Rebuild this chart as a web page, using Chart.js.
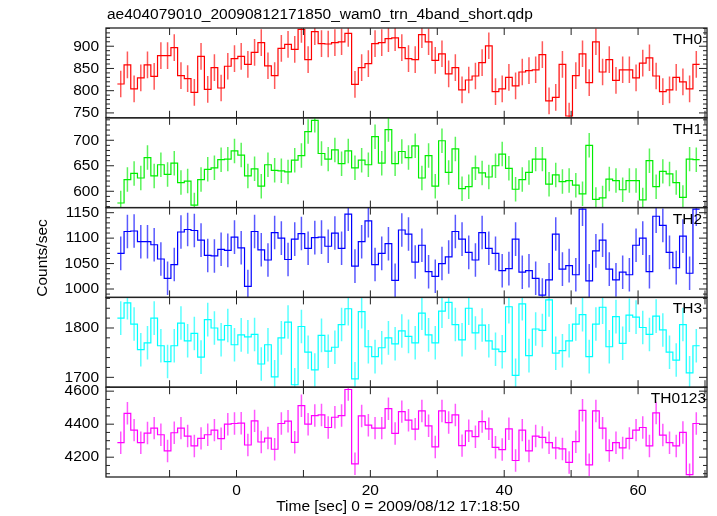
<!DOCTYPE html>
<html>
<head>
<meta charset="utf-8">
<script src="https://cdn.jsdelivr.net/npm/chart.js@4/dist/chart.umd.min.js"></script>
<style>
  body { margin: 0; background: #fff; }
</style>
</head>
<body>
<canvas id="lc" width="717" height="516"></canvas>
<script>
var plotTitle = 'ae404079010_20090812171850_wam0_trn_4band_short.qdp';
var xTitle = 'Time [sec] 0 = 2009/08/12 17:18:50';
var yTitle = 'Counts/sec';

// bin centres (sec), 1 s bins
var binTimes = [-17.3,-16.3,-15.3,-14.3,-13.3,-12.3,-11.3,-10.3,-9.3,-8.3,-7.3,-6.3,-5.3,-4.3,-3.3,-2.3,-1.3,-0.3,
  0.7,1.7,2.7,3.7,4.7,5.7,6.7,7.7,8.7,9.7,10.7,11.7,12.7,13.7,14.7,15.7,16.7,17.7,18.7,19.7,20.7,21.7,22.7,23.7,
  24.7,25.7,26.7,27.7,28.7,29.7,30.7,31.7,32.7,33.7,34.7,35.7,36.7,37.7,38.7,39.7,40.7,41.7,42.7,43.7,44.7,45.7,
  46.7,47.7,48.7,49.7,50.7,51.7,52.7,53.7,54.7,55.7,56.7,57.7,58.7,59.7,60.7,61.7,62.7,63.7,64.7,65.7,66.7,67.7,68.7];
var binWidth = 1.0;

var th0 = [815,858,804,829,858,832,879,879,897,834,827,796,877,803,852,806,855,872,877,859,
  886,908,856,834,895,904,893,938,870,933,906,905,908,910,929,814,852,861,906,908,
  917,919,897,872,870,926,910,868,883,838,852,802,824,833,863,901,798,804,830,811,
  842,845,847,881,777,785,859,743,834,883,818,910,842,870,823,847,847,829,862,874,
  833,798,802,830,820,804,859];
var th1 = [577,623,635,626,666,630,652,633,655,617,620,573,623,643,646,662,663,679,671,630,
  644,610,652,641,640,638,661,670,717,739,674,663,681,654,679,646,661,652,707,655,
  721,654,678,666,689,626,670,610,699,637,683,605,609,646,636,628,650,673,645,604,
  623,637,663,663,614,632,619,621,612,595,690,584,587,624,621,603,621,621,583,660,
  609,639,634,617,588,663,662];
var th2 = [1070,1113,1114,1093,1093,1087,1059,1021,1048,1112,1117,1115,1096,1066,1065,1078,1076,1102,1081,1005,
  1113,1077,1057,1111,1100,1058,1098,1109,1080,1101,1102,1084,1110,1080,1147,1045,1093,1134,1048,1070,
  1089,1017,1116,1108,1053,1086,1034,1025,1050,1063,1113,1098,1072,1057,1111,1080,1070,1036,1040,1098,
  1033,1036,1021,988,1018,1108,1039,1046,1028,1157,1016,1075,1096,1039,1018,1033,1028,1086,1100,1034,
  1143,1125,1072,1042,1104,1031,1157];
var th3 = [1820,1851,1808,1756,1770,1820,1764,1732,1764,1810,1774,1789,1741,1817,1800,1776,1805,1766,1786,1782,
  1787,1727,1766,1701,1780,1812,1685,1803,1751,1715,1785,1753,1761,1807,1839,1697,1833,1762,1742,1760,
  1780,1768,1794,1783,1770,1830,1786,1770,1834,1852,1807,1776,1840,1790,1806,1774,1757,1752,1843,1704,
  1849,1744,1798,1795,1857,1749,1754,1774,1808,1827,1742,1808,1842,1762,1823,1769,1826,1822,1801,1787,
  1824,1796,1751,1735,1807,1709,1764];
var th0123 = [4288,4466,4364,4288,4346,4376,4336,4238,4348,4376,4328,4268,4314,4336,4364,4312,4400,4404,4406,4274,
  4420,4292,4316,4248,4404,4418,4290,4512,4400,4452,4456,4380,4442,4452,4610,4160,4450,4394,4376,4376,
  4494,4344,4476,4424,4370,4480,4390,4262,4480,4410,4456,4270,4360,4324,4416,4372,4260,4246,4372,4180,
  4364,4238,4328,4320,4288,4256,4250,4168,4294,4484,4154,4480,4376,4240,4288,4256,4314,4364,4380,4268,
  4468,4334,4288,4268,4350,4094,4404];

// typical 1-sigma error per band (counts/sec)
var th0Err = 30, th1Err = 24, th2Err = 33, th3Err = 34, th0123Err = 68;

// axis ranges and tick labels
var th0Range = [739, 941], th0Ticks = [750, 800, 850, 900], th0Minor = 10;
var th1Range = [568, 744], th1Ticks = [600, 650, 700], th1Minor = 10;
var th2Range = [983.5, 1160], th2Ticks = [1000, 1050, 1100, 1150], th2Minor = 10;
var th3Range = [1680, 1862], th3Ticks = [1700, 1800], th3Minor = 20;
var th0123Range = [4080, 4624], th0123Ticks = [4200, 4400, 4600], th0123Minor = 50;
var xRange = [-19.5, 70.3], xTicks = [0, 20, 40, 60], xTickMarks = [-10, 0, 10, 20, 30, 40, 50, 60, 70];

var panels = [
  { id: 'y0', name: 'TH0', values: th0, err: th0Err, range: th0Range, ticks: th0Ticks, minor: th0Minor, color: '#ff0000' },
  { id: 'y1', name: 'TH1', values: th1, err: th1Err, range: th1Range, ticks: th1Ticks, minor: th1Minor, color: '#00ee00' },
  { id: 'y2', name: 'TH2', values: th2, err: th2Err, range: th2Range, ticks: th2Ticks, minor: th2Minor, color: '#0000ff' },
  { id: 'y3', name: 'TH3', values: th3, err: th3Err, range: th3Range, ticks: th3Ticks, minor: th3Minor, color: '#00ffff' },
  { id: 'y4', name: 'TH0123', values: th0123, err: th0123Err, range: th0123Range, ticks: th0123Ticks, minor: th0123Minor, color: '#ff00ff' }
];

// histogram edges: each value held from its bin's left edge to the next edge
function stepPoints(vals) {
  var pts = vals.map(function (v, i) { return { x: binTimes[i] - binWidth / 2, y: v }; });
  pts.push({ x: binTimes[vals.length - 1] + binWidth / 2, y: vals[vals.length - 1] });
  return pts;
}

var FONT = "15.5px 'Liberation Sans', Arial, sans-serif";
Chart.defaults.font.family = "'Liberation Sans', Arial, sans-serif";
Chart.defaults.font.size = 15.5;
Chart.defaults.color = '#000';

function plain(v) { return String(v); }

var scales = {
  x: {
    type: 'linear', min: xRange[0], max: xRange[1],
    grid: { display: false, drawTicks: false }, border: { display: false },
    ticks: { padding: 4, autoSkip: false, maxRotation: 0, callback: plain },
    afterBuildTicks: function (s) { s.ticks = xTicks.map(function (v) { return { value: v }; }); },
    afterFit: function (s) { s.height = 39; }
  }
};
// reverse order so TH0 ends up on top of the stack
panels.slice().reverse().forEach(function (p) {
  scales[p.id] = {
    type: 'linear', position: 'left', stack: 'bands', stackWeight: 1,
    min: p.range[0], max: p.range[1],
    grid: { display: false, drawTicks: false }, border: { display: false },
    ticks: { padding: 7, autoSkip: false, callback: plain },
    afterBuildTicks: function (s) { s.ticks = p.ticks.map(function (v) { return { value: v }; }); },
    afterFit: function (s) { s.width = 106; }
  };
});

var framePlugin = {
  id: 'qdpFrames',
  afterDatasetsDraw: function (chart) {
    var ctx = chart.ctx, area = chart.chartArea, xs = chart.scales.x;
    panels.forEach(function (p) {
      var ys = chart.scales[p.id];
      // error bars, clipped to the panel
      ctx.save();
      ctx.beginPath();
      ctx.rect(area.left, ys.top, area.right - area.left, ys.bottom - ys.top);
      ctx.clip();
      ctx.beginPath();
      ctx.strokeStyle = p.color;
      ctx.globalAlpha = 0.65;
      ctx.lineWidth = 1.5;
      p.values.forEach(function (v, i) {
        var x = xs.getPixelForValue(binTimes[i]);
        ctx.moveTo(x, ys.getPixelForValue(v - p.err));
        ctx.lineTo(x, ys.getPixelForValue(v + p.err));
      });
      ctx.stroke();
      ctx.restore();

      // frame and inward ticks
      ctx.save();
      ctx.strokeStyle = '#222';
      ctx.lineWidth = 1.3;
      ctx.strokeRect(area.left, ys.top, area.right - area.left, ys.bottom - ys.top);
      ctx.lineWidth = 1;
      ctx.beginPath();
      var v, y;
      for (v = Math.ceil(p.range[0] / p.minor) * p.minor; v <= p.range[1]; v += p.minor) {
        y = ys.getPixelForValue(v);
        var len = p.ticks.indexOf(v) >= 0 ? 8 : 4;
        ctx.moveTo(area.left, y); ctx.lineTo(area.left + len, y);
        ctx.moveTo(area.right, y); ctx.lineTo(area.right - len, y);
      }
      xTickMarks.forEach(function (t) {
        var x = xs.getPixelForValue(t);
        ctx.moveTo(x, ys.top); ctx.lineTo(x, ys.top + 7);
        ctx.moveTo(x, ys.bottom); ctx.lineTo(x, ys.bottom - 7);
      });
      ctx.stroke();

      // band label
      ctx.fillStyle = '#000';
      ctx.font = FONT;
      ctx.textAlign = 'right';
      ctx.textBaseline = 'alphabetic';
      ctx.fillText(p.name, area.right - (p.name.length > 3 ? 1 : 5), ys.top + 16);
      ctx.restore();
    });

    // titles
    ctx.save();
    ctx.fillStyle = '#000';
    ctx.font = FONT;
    ctx.textBaseline = 'alphabetic';
    ctx.textAlign = 'left';
    ctx.fillText(plotTitle, 107, 19);
    ctx.textAlign = 'center';
    ctx.fillText(xTitle, 398, 511);
    ctx.translate(47, 258);
    ctx.rotate(-Math.PI / 2);
    ctx.fillText(yTitle, 0, 0);
    ctx.restore();
  }
};

new Chart(document.getElementById('lc'), {
  type: 'line',
  data: {
    datasets: panels.map(function (p) {
      return {
        label: p.name,
        data: stepPoints(p.values),
        yAxisID: p.id,
        xAxisID: 'x',
        borderColor: p.color,
        borderWidth: 1.2,
        pointRadius: 0,
        stepped: true,
        fill: false
      };
    })
  },
  options: {
    responsive: false,
    animation: false,
    devicePixelRatio: 1,
    layout: { padding: { top: 28, right: 10, left: 0, bottom: 0 } },
    plugins: { legend: { display: false }, tooltip: { enabled: false } },
    scales: scales
  },
  plugins: [framePlugin]
});
</script>
</body>
</html>
